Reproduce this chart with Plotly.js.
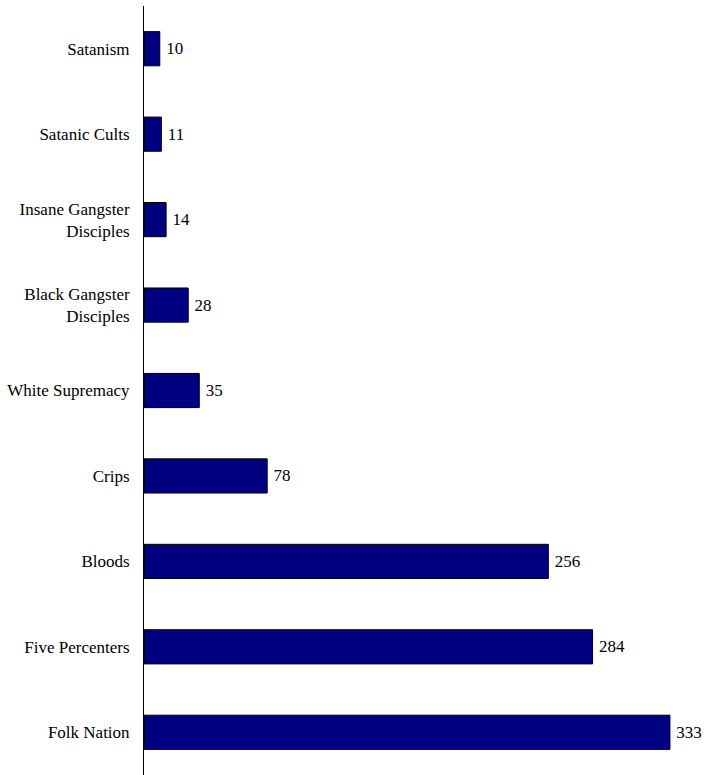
<!DOCTYPE html>
<html>
<head>
<meta charset="utf-8">
<script src="https://cdn.plot.ly/plotly-3.0.1.min.js"></script>
<style>html,body{margin:0;padding:0;background:#fff;}#chart{width:706px;height:775px;}</style>
</head>
<body>
<div id="chart"></div>
<script>
const categories = ["Satanism", "Satanic Cults", "Insane Gangster<br>Disciples", "Black Gangster<br>Disciples", "White Supremacy", "Crips", "Bloods", "Five Percenters", "Folk Nation"];
const counts = [10, 11, 14, 28, 35, 78, 256, 284, 333];

const serif = "Liberation Serif";

const trace = {
  type: "bar",
  orientation: "h",
  y: categories,
  x: counts,
  text: counts.map(v => "\u2009" + v),
  textposition: "outside",
  cliponaxis: false,
  textfont: {family: serif, size: 17, color: "#000"},
  marker: {color: "#000080", line: {color: "#000", width: 1}},
  hoverinfo: "skip"
};

const layout = {
  width: 706, height: 775,
  margin: {l: 144, r: 10, t: 6, b: 0},
  paper_bgcolor: "#fff", plot_bgcolor: "#fff",
  showlegend: false,
  bargap: 0.6,
  font: {family: serif, size: 17, color: "#000"},
  xaxis: {visible: false, range: [0, 349.5], fixedrange: true},
  yaxis: {
    autorange: "reversed",
    showline: true, linecolor: "#000", linewidth: 1,
    ticks: "outside", ticklen: 10, tickcolor: "rgba(0,0,0,0)",
    showgrid: false, zeroline: false,
    tickfont: {family: serif, size: 17, color: "#000"}
  }
};

Plotly.newPlot("chart", [trace], layout, {staticPlot: true, displayModeBar: false});
</script>
</body>
</html>
